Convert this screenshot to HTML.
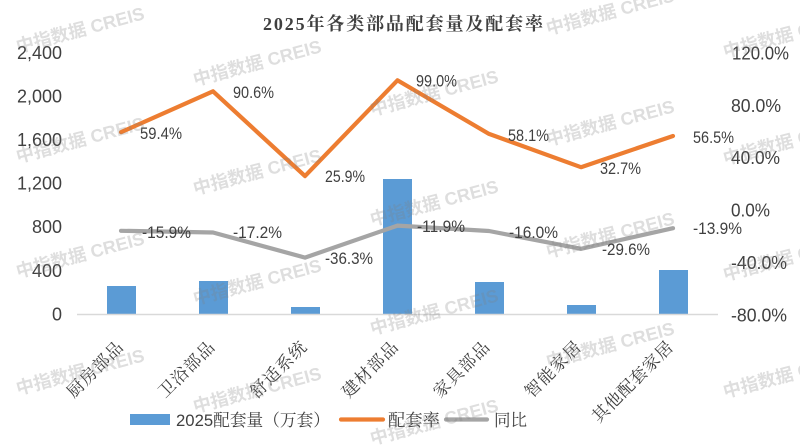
<!DOCTYPE html>
<html>
<head>
<meta charset="utf-8">
<style>
html,body{margin:0;padding:0;background:#fff;}
body{width:800px;height:445px;overflow:hidden;}
svg{display:block;}
.ax{font-family:"Liberation Sans","Noto Sans CJK SC",sans-serif;font-size:18px;fill:#404040;}
.dl{font-family:"Liberation Sans","Noto Sans CJK SC",sans-serif;font-size:17px;fill:#404040;}
.cat{font-family:"Liberation Serif","Noto Serif CJK SC",serif;font-size:17px;fill:#404040;}
.lg{font-family:"Liberation Sans","Noto Serif CJK SC",serif;font-size:17px;fill:#404040;}
.wm{font-family:"Liberation Sans","Noto Sans CJK SC",sans-serif;font-size:18px;font-weight:bold;fill:#7f7f7f;fill-opacity:0.26;}
</style>
</head>
<body>
<svg width="800" height="445" viewBox="0 0 800 445" xmlns="http://www.w3.org/2000/svg">
<rect width="800" height="445" fill="#ffffff"/>

<!-- title -->
<text x="403" y="30" text-anchor="middle" textLength="280" lengthAdjust="spacing" style="font-family:'Liberation Serif','Noto Serif CJK SC',serif;font-size:18px;font-weight:bold;fill:#404040;">2025年各类部品配套量及配套率</text>

<!-- left axis labels -->
<g class="ax" text-anchor="end">
<text x="62" y="59">2,400</text>
<text x="62" y="102.5">2,000</text>
<text x="62" y="146">1,600</text>
<text x="62" y="189.5">1,200</text>
<text x="62" y="233">800</text>
<text x="62" y="277">400</text>
<text x="62" y="320.5">0</text>
</g>

<!-- right axis labels -->
<g class="ax">
<text x="732" y="59.5" textLength="57" lengthAdjust="spacingAndGlyphs">120.0%</text>
<text x="731" y="112" textLength="50" lengthAdjust="spacingAndGlyphs">80.0%</text>
<text x="731" y="164" textLength="49" lengthAdjust="spacingAndGlyphs">40.0%</text>
<text x="731" y="216.5" textLength="39" lengthAdjust="spacingAndGlyphs">0.0%</text>
<text x="731" y="269" textLength="56" lengthAdjust="spacingAndGlyphs">-40.0%</text>
<text x="731" y="321.5" textLength="56" lengthAdjust="spacingAndGlyphs">-80.0%</text>
</g>

<!-- bars -->
<g fill="#5B9BD5">
<rect x="107" y="286" width="29" height="28"/>
<rect x="199" y="281" width="29" height="33"/>
<rect x="291" y="307" width="29" height="7"/>
<rect x="383" y="179" width="29" height="135"/>
<rect x="475" y="282" width="29" height="32"/>
<rect x="567" y="305" width="29" height="9"/>
<rect x="659" y="270" width="29" height="44"/>
</g>

<!-- axis line -->
<line x1="77" y1="314.5" x2="718" y2="314.5" stroke="#d9d9d9" stroke-width="1.5"/>

<!-- orange line -->
<polyline fill="none" stroke="#ED7D31" stroke-width="4.2" stroke-linejoin="round" stroke-linecap="round"
 points="121,132.2 213,91.3 305,176.1 397.5,80.3 489,133.9 581,167.2 673,136"/>
<!-- grey line -->
<polyline fill="none" stroke="#A5A5A5" stroke-width="4.2" stroke-linejoin="round" stroke-linecap="round"
 points="121,230.8 213,232.5 305,257.6 397.5,225.6 489,231 581,248.8 673,228.2"/>

<!-- data labels orange -->
<g class="dl">
<text x="140" y="139" textLength="42" lengthAdjust="spacingAndGlyphs">59.4%</text>
<text x="233" y="98" textLength="41" lengthAdjust="spacingAndGlyphs">90.6%</text>
<text x="325" y="182" textLength="40" lengthAdjust="spacingAndGlyphs">25.9%</text>
<text x="416" y="86.5" textLength="41" lengthAdjust="spacingAndGlyphs">99.0%</text>
<text x="508" y="141" textLength="41" lengthAdjust="spacingAndGlyphs">58.1%</text>
<text x="600" y="174" textLength="41" lengthAdjust="spacingAndGlyphs">32.7%</text>
<text x="693" y="143" textLength="41" lengthAdjust="spacingAndGlyphs">56.5%</text>
</g>
<!-- data labels grey -->
<g class="dl">
<text x="142" y="238" textLength="49" lengthAdjust="spacingAndGlyphs">-15.9%</text>
<text x="233" y="238" textLength="49" lengthAdjust="spacingAndGlyphs">-17.2%</text>
<text x="325" y="264" textLength="48" lengthAdjust="spacingAndGlyphs">-36.3%</text>
<text x="417" y="232" textLength="48" lengthAdjust="spacingAndGlyphs">-11.9%</text>
<text x="509" y="238" textLength="49" lengthAdjust="spacingAndGlyphs">-16.0%</text>
<text x="602" y="255" textLength="48" lengthAdjust="spacingAndGlyphs">-29.6%</text>
<text x="693" y="234" textLength="49" lengthAdjust="spacingAndGlyphs">-13.9%</text>
</g>

<!-- category labels -->
<g class="cat" text-anchor="end">
<text transform="translate(124,348.5) rotate(-45)" textLength="71" lengthAdjust="spacing">厨房部品</text>
<text transform="translate(215.5,348.5) rotate(-45)" textLength="71" lengthAdjust="spacing">卫浴部品</text>
<text transform="translate(307.5,348.5) rotate(-45)" textLength="71" lengthAdjust="spacing">舒适系统</text>
<text transform="translate(399,348.5) rotate(-45)" textLength="71" lengthAdjust="spacing">建材部品</text>
<text transform="translate(490.5,348.5) rotate(-45)" textLength="71" lengthAdjust="spacing">家具部品</text>
<text transform="translate(582,348.5) rotate(-45)" textLength="71" lengthAdjust="spacing">智能家居</text>
<text transform="translate(674,348.5) rotate(-45)" textLength="106" lengthAdjust="spacing">其他配套家居</text>
</g>

<!-- legend -->
<rect x="130" y="414" width="40" height="11" fill="#5B9BD5"/>
<text class="lg" x="176" y="426" textLength="154" lengthAdjust="spacingAndGlyphs">2025配套量（万套）</text>
<line x1="341" y1="419.5" x2="383" y2="419.5" stroke="#ED7D31" stroke-width="4.2" stroke-linecap="round"/>
<text class="lg" x="388" y="426" textLength="52" lengthAdjust="spacingAndGlyphs">配套率</text>
<line x1="446" y1="419.5" x2="487" y2="419.5" stroke="#A5A5A5" stroke-width="4.2" stroke-linecap="round"/>
<text class="lg" x="494" y="426" textLength="33" lengthAdjust="spacingAndGlyphs">同比</text>

<!-- watermarks -->
<g class="wm">
<text transform="translate(18,53) rotate(-15)">中指数据 CREIS</text>
<text transform="translate(18,163) rotate(-15)">中指数据 CREIS</text>
<text transform="translate(18,278) rotate(-15)">中指数据 CREIS</text>
<text transform="translate(18,395) rotate(-15)">中指数据 CREIS</text>

<text transform="translate(195,86) rotate(-15)">中指数据 CREIS</text>
<text transform="translate(195,195) rotate(-15)">中指数据 CREIS</text>
<text transform="translate(195,305) rotate(-15)">中指数据 CREIS</text>
<text transform="translate(195,413) rotate(-15)">中指数据 CREIS</text>

<text transform="translate(372,116) rotate(-15)">中指数据 CREIS</text>
<text transform="translate(372,226) rotate(-15)">中指数据 CREIS</text>
<text transform="translate(372,335) rotate(-15)">中指数据 CREIS</text>
<text transform="translate(372,445) rotate(-15)">中指数据 CREIS</text>

<text transform="translate(548,35) rotate(-15)">中指数据 CREIS</text>
<text transform="translate(548,146) rotate(-15)">中指数据 CREIS</text>
<text transform="translate(548,258) rotate(-15)">中指数据 CREIS</text>
<text transform="translate(548,368) rotate(-15)">中指数据 CREIS</text>

<text transform="translate(725,58) rotate(-15)">中指数据 CREIS</text>
<text transform="translate(725,165) rotate(-15)">中指数据 CREIS</text>
<text transform="translate(725,281) rotate(-15)">中指数据 CREIS</text>
<text transform="translate(725,398) rotate(-15)">中指数据 CREIS</text>
</g>
</svg>
</body>
</html>
